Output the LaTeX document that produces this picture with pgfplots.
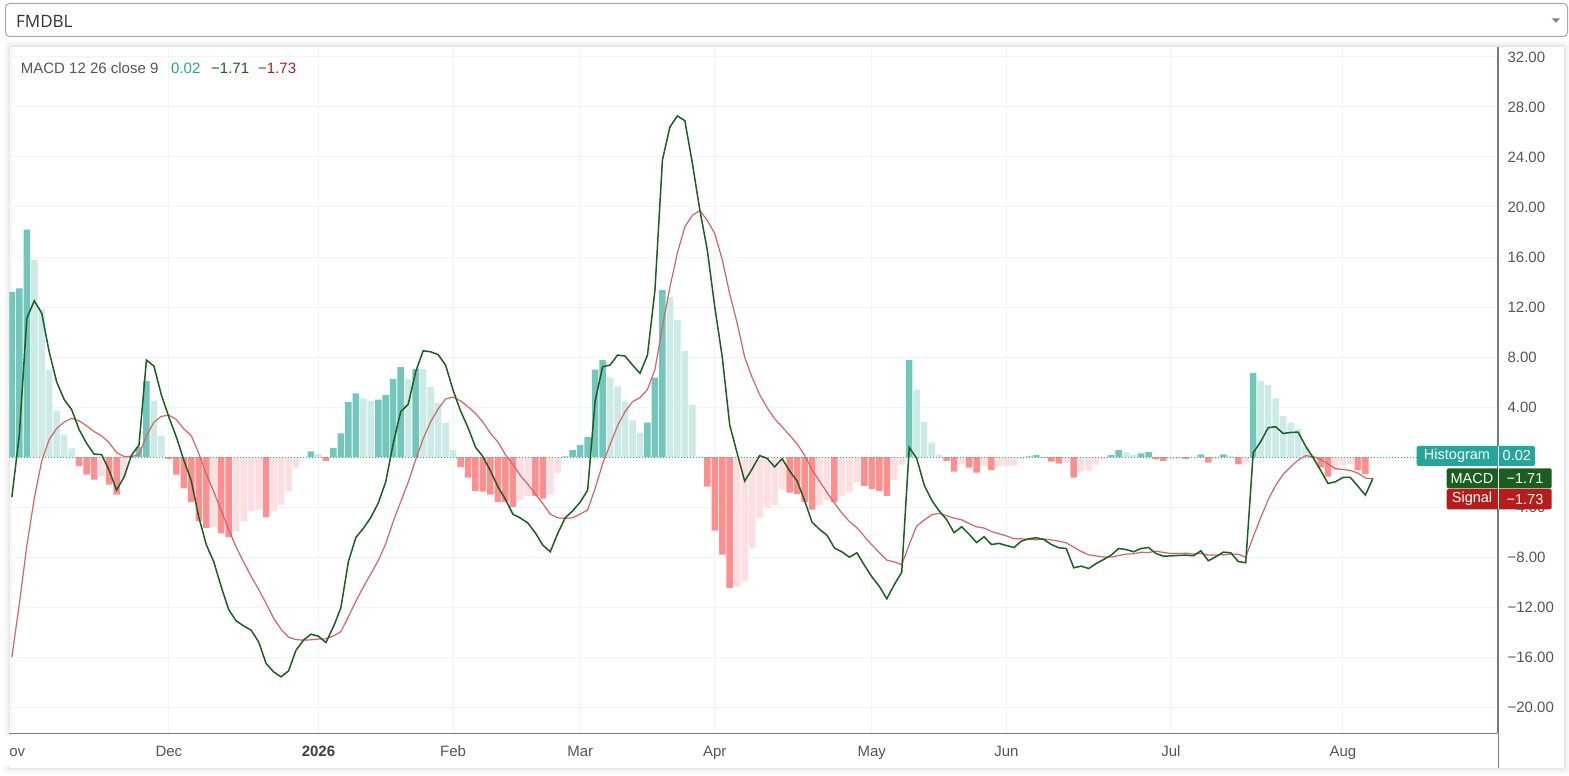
\documentclass[border=0pt]{standalone}
\usepackage{pgfplots}
\pgfplotsset{compat=1.18}
\usepackage{pgfplotstable}
\usepackage{fontspec}
\setmainfont{Liberation Sans}
\newfontfamily\ddfont{Open Sans}
\definecolor{gridc}{RGB}{240,243,250}
\definecolor{axc}{RGB}{120,123,134}
\definecolor{txt}{RGB}{85,85,85}
\definecolor{hG}{RGB}{114,198,188}
\definecolor{hg}{RGB}{204,235,231}
\definecolor{hR}{RGB}{255,143,143}
\definecolor{hr}{RGB}{255,222,225}
\definecolor{tvteal}{RGB}{38,166,154}
\definecolor{macdc}{RGB}{27,94,32}
\definecolor{sigc}{RGB}{183,28,28}
\definecolor{sigline}{RGB}{214,100,100}
\definecolor{ddc}{RGB}{168,168,168}

\pgfplotstableread{
i m s
0 -3.2 -16.0
1 1.76 -11.74
2 11.1 -7.1
3 12.5 -3.3
4 11.5 -0.3
5 8.4 1.4
6 6.0 2.3
7 4.6 2.8
8 3.8 3.1
9 2.2 2.9
10 1.1 2.5
11 0.24 2.04
12 0.2 1.7
13 -1.04 1.16
14 -2.64 0.36
15 -1.6 0.05
16 0.15 0.05
17 0.96 0.2
18 7.76 1.7
19 7.28 2.8
20 4.96 3.26
21 3.2 3.35
22 1.6 3.0
23 -0.24 2.26
24 -1.9 1.7
25 -4.8 0.3
26 -7.0 -1.35
27 -8.37 -2.77
28 -10.37 -4.27
29 -12.2 -5.8
30 -13.1 -7.2
31 -13.5 -8.4
32 -13.84 -9.54
33 -14.77 -10.57
34 -16.5 -11.7
35 -17.17 -12.87
36 -17.57 -13.77
37 -17.1 -14.4
38 -15.44 -14.59
39 -14.64 -14.64
40 -14.16 -14.61
41 -14.32 -14.55
42 -14.83 -14.53
43 -13.57 -14.3
44 -12.05 -13.95
45 -8.37 -12.77
46 -6.43 -11.53
47 -5.7 -10.4
48 -4.83 -9.33
49 -3.67 -8.27
50 -1.97 -6.93
51 1.09 -5.15
52 3.63 -3.57
53 4.22 -2.02
54 6.82 -0.22
55 8.5 1.46
56 8.42 2.82
57 8.2 3.85
58 7.36 4.64
59 5.36 4.8
60 3.7 4.5
61 2.37 4.02
62 0.8 3.5
63 0.03 2.8
64 -1.1 1.9
65 -2.37 1.2
66 -3.37 0.2
67 -4.56 -0.59
68 -4.87 -1.47
69 -5.27 -2.17
70 -6.05 -2.95
71 -7.04 -3.71
72 -7.57 -4.57
73 -6.1 -4.85
74 -4.85 -4.9
75 -4.3 -4.85
76 -3.6 -4.55
77 -2.64 -4.24
78 4.5 -2.5
79 7.22 -0.54
80 7.36 1.01
81 8.16 2.51
82 8.08 3.63
83 7.36 4.43
84 6.7 4.75
85 8.16 5.41
86 13.36 7.01
87 23.76 10.4
88 26.4 13.6
89 27.28 16.32
90 26.9 18.42
91 23.5 19.34
92 19.76 19.71
93 16.56 18.93
94 12.0 17.87
95 8.0 15.79
96 2.56 13.04
97 0.29 10.69
98 -1.92 7.98
99 -0.94 6.36
100 0.12 4.99
101 -0.1 3.95
102 -0.78 3.07
103 -0.13 2.42
104 -1.1 1.75
105 -1.9 1.06
106 -3.45 0.15
107 -5.2 -1.0
108 -5.77 -1.92
109 -6.24 -2.82
110 -7.27 -3.67
111 -7.58 -4.48
112 -8.0 -5.15
113 -7.65 -5.65
114 -8.64 -6.34
115 -9.57 -7.02
116 -10.33 -7.63
117 -11.33 -8.23
118 -10.2 -8.38
119 -9.2 -8.6
120 0.77 -6.99
121 -0.1 -5.5
122 -2.24 -5.04
123 -3.44 -4.61
124 -4.3 -4.5
125 -4.99 -4.69
126 -6.05 -4.88
127 -5.57 -5.01
128 -6.16 -5.31
129 -6.83 -5.58
130 -6.37 -5.67
131 -6.99 -5.95
132 -6.90 -6.13
133 -7.07 -6.30
134 -7.23 -6.53
135 -6.72 -6.53
136 -6.53 -6.58
137 -6.45 -6.61
138 -6.59 -6.54
139 -6.99 -6.62
140 -7.25 -6.72
141 -7.31 -6.86
142 -8.85 -7.20
143 -8.72 -7.55
144 -8.91 -7.82
145 -8.51 -7.90
146 -8.19 -7.99
147 -7.84 -8.00
148 -7.31 -7.87
149 -7.39 -7.76
150 -7.57 -7.73
151 -7.31 -7.61
152 -7.23 -7.63
153 -7.71 -7.52
154 -7.92 -7.62
155 -7.90 -7.71
156 -7.86 -7.71
157 -7.84 -7.69
158 -7.89 -7.75
159 -7.49 -7.70
160 -8.29 -7.84
161 -7.97 -7.82
162 -7.60 -7.81
163 -7.65 -7.75
164 -8.35 -7.77
165 -8.45 -8.00
166 0.35 -6.37
167 1.23 -4.85
168 2.35 -3.41
169 2.43 -2.26
170 1.89 -1.39
171 1.97 -0.78
172 2.00 -0.24
173 0.88 0.11
174 -0.03 0.05
175 -1.04 -0.19
176 -2.11 -0.54
177 -1.97 -0.93
178 -1.63 -0.99
179 -1.63 -1.07
180 -2.32 -1.28
181 -3.04 -1.68
182 -1.71 -1.73
}\macd

\begin{document}
\begin{tikzpicture}[x=1pt,y=1pt]
\useasboundingbox (0,0) rectangle (1569,776);
\fill[white] (0,0) rectangle (1569,776);
% panel shadow
\foreach \d/\o in {7/0.012,5/0.018,3/0.025,1.5/0.04}{
  \fill[black,opacity=\o,rounded corners=3] (10-\d,8-\d) rectangle (1564+\d,729+\d);
}
\fill[white] (10,8) rectangle (1564,729);

\begin{axis}[
  at={(12.5,34.2)}, anchor=south west,
  width=1488pt, height=686.3pt, scale only axis,
  xmin=-0.334, xmax=198.65, ymin=-22.08, ymax=32.8,
  axis x line*=bottom, axis y line*=right,
  axis line style={axc, line width=1pt},
  major tick length=0pt,
  grid=major, major grid style={gridc, line width=1pt},
  xtick={0,21,41,59,76,94,115,133,155,178},
  xticklabels={Nov,Dec,\textbf{\textcolor{black!75}{2026}},Feb,Mar,Apr,May,Jun,Jul,Aug},
  xticklabel style={anchor=base, font=\fontsize{15}{18}\selectfont, text=txt, yshift=-23pt},
  ytick={-20,-16,-12,-8,-4,0,4,8,12,16,20,24,28,32},
  yticklabels={−20.00,−16.00,−12.00,−8.00,−4.00,,4.00,8.00,12.00,16.00,20.00,24.00,28.00,32.00},
  yticklabel style={anchor=west, inner sep=0pt, xshift=10pt, font=\fontsize{15}{18}\selectfont, text=txt},
  clip=true,
]
\addplot[ybar, bar shift=0pt, bar width=0.87, fill=hG, draw=none] coordinates {
(0,13.2) (1,13.5) (2,18.2) (16,0.1) (17,0.8) (18,6.1) (40,0.45) (43,0.73) (44,1.9) (45,4.4) (46,5.1) (49,4.6) (50,4.96) (51,6.24) (52,7.2) (54,7.04) (74,0.05) (75,0.55) (76,0.95) (77,1.6) (78,7.0) (79,7.76) (85,2.75) (86,6.35) (87,13.36) (120,7.76) (136,0.05) (137,0.16) (147,0.16) (148,0.56) (151,0.3) (152,0.4) (159,0.21) (162,0.21) (166,6.72) (182,0.02)};
\addplot[ybar, bar shift=0pt, bar width=0.87, fill=hg, draw=none] coordinates {
(3,15.8) (4,11.8) (5,7.0) (6,3.7) (7,1.8) (8,0.7) (19,4.5) (20,1.7) (41,0.23) (47,4.7) (48,4.5) (53,6.24) (55,7.04) (56,5.6) (57,4.35) (58,2.72) (59,0.56) (80,6.35) (81,5.65) (82,4.45) (83,2.93) (84,1.95) (88,12.8) (89,10.96) (90,8.48) (91,4.16) (92,0.05) (121,5.4) (122,2.8) (123,1.17) (124,0.2) (149,0.37) (150,0.16) (163,0.1) (167,6.08) (168,5.76) (169,4.69) (170,3.28) (171,2.75) (172,2.24) (173,0.77)};
\addplot[ybar, bar shift=0pt, bar width=0.87, fill=hR, draw=none] coordinates {
(9,-0.7) (10,-1.4) (11,-1.8) (13,-2.2) (14,-3.0) (21,-0.15) (22,-1.4) (23,-2.5) (24,-3.6) (25,-5.1) (26,-5.65) (28,-6.1) (29,-6.4) (34,-4.8) (42,-0.3) (60,-0.8) (61,-1.65) (62,-2.7) (63,-2.77) (64,-3.0) (65,-3.57) (66,-3.57) (67,-3.97) (70,-3.1) (71,-3.33) (93,-2.37) (94,-5.87) (95,-7.79) (96,-10.48) (104,-2.85) (105,-2.96) (106,-3.6) (107,-4.2) (110,-3.6) (114,-2.3) (115,-2.55) (116,-2.7) (117,-3.1) (125,-0.3) (126,-1.17) (128,-0.85) (129,-1.25) (131,-1.04) (138,-0.05) (139,-0.37) (140,-0.53) (142,-1.65) (153,-0.19) (154,-0.3) (157,-0.15) (160,-0.45) (164,-0.58) (174,-0.08) (175,-0.85) (176,-1.57) (180,-1.04) (181,-1.36)};
\addplot[ybar, bar shift=0pt, bar width=0.87, fill=hr, draw=none] coordinates {
(12,-1.5) (15,-1.65) (27,-5.6) (30,-5.9) (31,-5.1) (32,-4.3) (33,-4.2) (35,-4.3) (36,-3.8) (37,-2.7) (38,-0.85) (68,-3.4) (69,-3.1) (72,-3.0) (73,-1.25) (97,-10.4) (98,-9.9) (99,-7.3) (100,-4.87) (101,-4.05) (102,-3.85) (103,-2.55) (108,-3.85) (109,-3.42) (111,-3.1) (112,-2.85) (113,-2.0) (118,-1.82) (119,-0.6) (127,-0.56) (130,-0.7) (132,-0.77) (133,-0.77) (134,-0.7) (135,-0.19) (141,-0.45) (143,-1.17) (144,-1.09) (145,-0.61) (146,-0.2) (155,-0.19) (156,-0.15) (161,-0.15) (165,-0.45) (177,-1.04) (178,-0.64) (179,-0.56)};
\addplot[tvteal, line width=1pt, dash pattern=on 1pt off 2pt, mark=none] coordinates {(-0.334,0) (198.65,0)};
\addplot[sigline, line width=1.2pt, mark=none] table[x=i, y=s] {\macd};
\addplot[macdc, line width=1.5pt, mark=none] table[x=i, y=m] {\macd};
\end{axis}

% right axis line down to panel bottom
\draw[axc, line width=1pt] (1498,8) -- (1498,729);
% clip "Nov" at panel edge
\fill[white] (0,10) rectangle (9.6,40);

% dropdown
\draw[ddc, line width=1pt, rounded corners=4, fill=white] (5.5,772.5) rectangle (1567.5,739.5);
\node[anchor=base west, inner sep=0pt, font=\ddfont\fontsize{17}{20}\selectfont, text=black!80] at (16,748.7) {FMDBL};
\fill[black!50] (1551.7,757.7) -- (1560,757.7) -- (1555.85,753.3) -- cycle;

% legend
\node[anchor=base west, inner sep=0pt, font=\fontsize{15}{18}\selectfont, text=txt] at (20.7,702) {MACD 12 26 close 9};
\node[anchor=base west, inner sep=0pt, font=\fontsize{15}{18}\selectfont, text=tvteal] at (171,702) {0.02};
\node[anchor=base west, inner sep=0pt, font=\fontsize{15}{18}\selectfont, text=macdc] at (211,702) {−1.71};
\node[anchor=base west, inner sep=0pt, font=\fontsize{15}{18}\selectfont, text=sigc] at (258,702) {−1.73};

% value boxes
\fill[tvteal, rounded corners=2] (1416.7,310) rectangle (1535,330);
\fill[macdc, rounded corners=2] (1446.7,287.7) rectangle (1551.7,307.7);
\fill[sigc, rounded corners=2] (1446.7,266.7) rectangle (1551.7,287);
\draw[white, line width=0.8pt] (1498,266.7) -- (1498,330);
\begin{scope}[every node/.style={text=white, inner sep=0pt, font=\fontsize{14.5}{17}\selectfont}]
\node at (1457,320) {Histogram};
\node at (1516.8,320) {0.02};
\node at (1472,297.7) {MACD};
\node at (1525,297.7) {−1.71};
\node at (1472,276.8) {Signal};
\node at (1525,276.8) {−1.73};
\end{scope}
\end{tikzpicture}
\end{document}
